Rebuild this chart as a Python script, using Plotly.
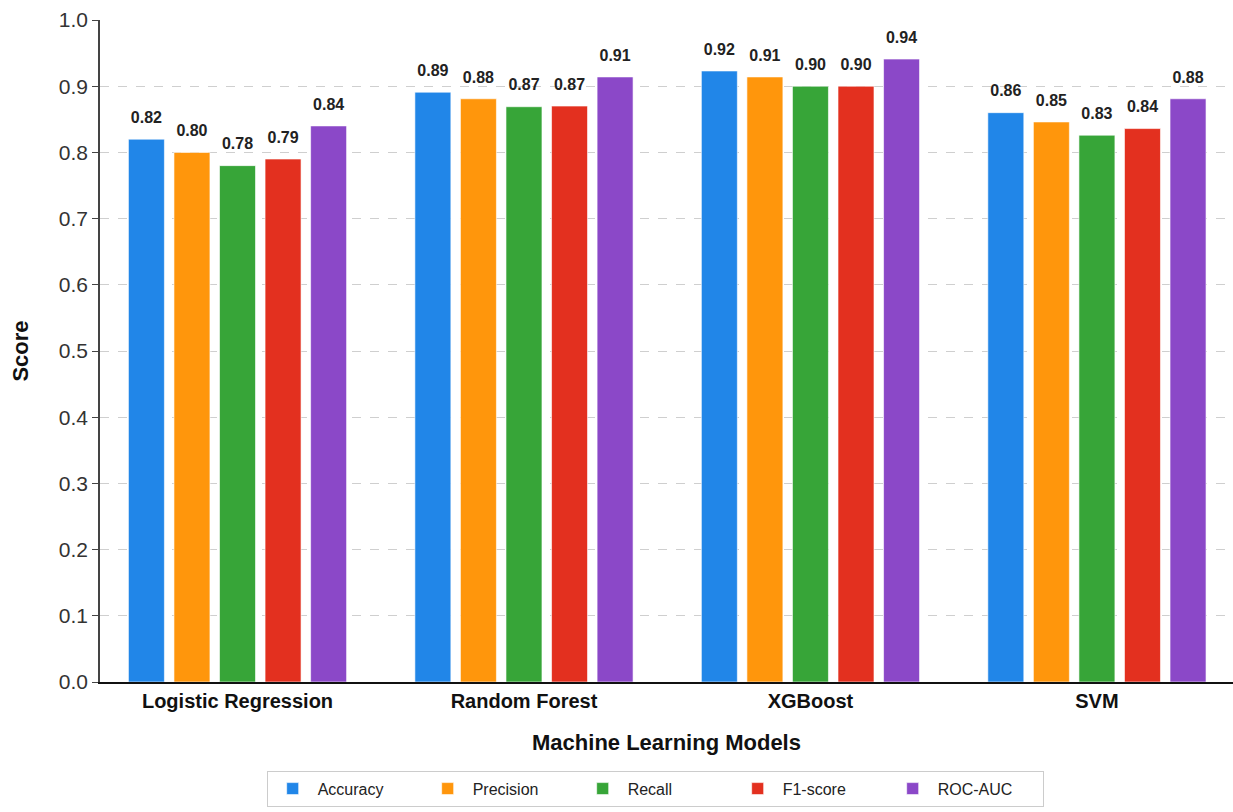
import plotly.graph_objects as go

models = ["Logistic Regression", "Random Forest", "XGBoost", "SVM"]
metrics = ["Accuracy", "Precision", "Recall", "F1-score", "ROC-AUC"]
accuracy = [0.82, 0.891, 0.923, 0.86]
precision = [0.80, 0.881, 0.914, 0.846]
recall = [0.78, 0.869, 0.90, 0.826]
f1_score = [0.79, 0.87, 0.90, 0.836]
roc_auc = [0.84, 0.914, 0.941, 0.881]
y_ticks = [0.0, 0.1, 0.2, 0.3, 0.4, 0.5, 0.6, 0.7, 0.8, 0.9, 1.0]

series = [accuracy, precision, recall, f1_score, roc_auc]
colors = ["#2186E8", "#FF960C", "#37A538", "#E3301F", "#8B48C8"]

FONT = "Liberation Sans, Arial, sans-serif"
GAP = 0.205

fig = go.Figure()
for i, (name, vals, col) in enumerate(zip(metrics, series, colors)):
    fig.add_trace(go.Bar(
        x=models, y=vals, name=name, offsetgroup=str(i),
        marker=dict(color=col, line=dict(color="rgba(255,255,255,0.6)", width=1)),
    ))
# value labels above each bar; an invisible marker lifts the text off the bar top
for i, vals in enumerate(series):
    fig.add_trace(go.Scatter(
        x=models, y=vals, offsetgroup=str(i), mode="markers+text",
        text=[f"<b>{v:.2f}</b>" for v in vals], textposition="top center",
        textfont=dict(size=16, color="#222222", family=FONT),
        marker=dict(size=18, opacity=0),
        showlegend=False, hoverinfo="skip", cliponaxis=False,
    ))

fig.update_layout(
    width=1233, height=812,
    margin=dict(l=100, r=0, t=20, b=130),
    paper_bgcolor="white", plot_bgcolor="white",
    barmode="group", bargap=GAP, bargroupgap=0.21,
    scattermode="group", scattergap=GAP,
    font=dict(family=FONT, color="#222222"),
    xaxis=dict(
        range=[-0.48, 3.475],
        showline=True, linecolor="#111111", linewidth=2,
        ticks="", tickfont=dict(size=20, color="#111111", family=FONT),
        tickprefix="<b>", ticksuffix="</b>",
        title=dict(text="<b>Machine Learning Models</b>", font=dict(size=22, color="#111111"), standoff=24),
        showgrid=False,
    ),
    yaxis=dict(
        range=[0, 1.0], tickvals=y_ticks, tickformat=".1f",
        showline=True, linecolor="#444444", linewidth=1.5,
        ticks="outside", ticklen=6, tickcolor="#444444",
        tickfont=dict(size=21, color="#333333", family=FONT),
        showgrid=True, gridcolor="#cfcfcf", griddash="dash", gridwidth=1,
        title=dict(text="<b>Score</b>", font=dict(size=22, color="#111111"), standoff=24),
        zeroline=False,
    ),
    legend=dict(
        orientation="h", x=0.49, xanchor="center", y=-0.134, yanchor="top",
        bordercolor="#cccccc", borderwidth=1, bgcolor="white",
        font=dict(size=16, color="#222222", family=FONT),
        itemwidth=40, entrywidth=100, entrywidthmode="pixels", traceorder="normal",
    ),
    showlegend=True,
)

fig.write_html("out.html")
